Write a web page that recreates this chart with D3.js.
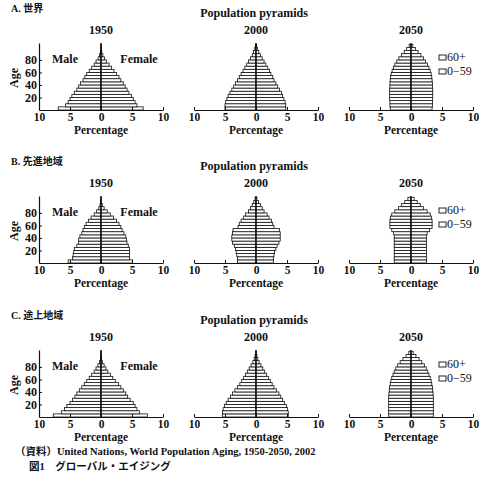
<!DOCTYPE html>
<html>
<head>
<meta charset="utf-8">
<script src="https://cdn.jsdelivr.net/npm/d3@7"></script>
<style>
  body { margin: 0; background: #fff; }
  svg { display: block; }
  text { font-family: "Liberation Serif", "DejaVu Serif", "Noto Sans CJK JP", serif; fill: #111; }
</style>
</head>
<body>
<div id="chart"></div>
<script>
// age groups, 5-year bands, lower bound of each band
const AGE_STARTS = [0, 5, 10, 15, 20, 25, 30, 35, 40, 45, 50, 55, 60, 65, 70, 75, 80, 85, 90, 95, 100];
const YEARS = ["1950", "2000", "2050"];
const REGION_LABELS = ["A. 世界", "B. 先進地域", "C. 途上地域"];
const X_TICKS = [-10, -5, 0, 5, 10];
const Y_TICKS = [20, 40, 60, 80];
const LEGEND_LABELS = ["60+", "0\u221259"];

// percentage of total population, by sex
const WORLD_1950_MALE   = [6.9, 5.7, 5.3, 5.0, 4.7, 4.3, 3.9, 3.6, 3.3, 2.9, 2.6, 2.3, 1.9, 1.5, 1.1, 0.8, 0.45, 0.25, 0.1, 0.05, 0.02];
const WORLD_1950_FEMALE = [6.8, 5.8, 5.5, 5.2, 4.9, 4.5, 4.2, 3.9, 3.6, 3.2, 2.9, 2.5, 2.1, 1.7, 1.3, 0.9, 0.55, 0.3, 0.12, 0.05, 0.02];
const WORLD_2000_MALE   = [5.0, 5.0, 4.9, 4.7, 4.5, 4.2, 3.9, 3.6, 3.3, 3.0, 2.7, 2.4, 2.1, 1.8, 1.5, 1.2, 0.9, 0.6, 0.4, 0.2, 0.1];
const WORLD_2000_FEMALE = [4.8, 4.8, 4.7, 4.5, 4.3, 4.1, 3.8, 3.5, 3.2, 2.9, 2.7, 2.4, 2.2, 1.9, 1.6, 1.3, 1.0, 0.7, 0.45, 0.25, 0.1];
const WORLD_2050_MALE   = [3.35, 3.4, 3.4, 3.45, 3.45, 3.45, 3.45, 3.4, 3.4, 3.35, 3.3, 3.2, 3.05, 2.85, 2.6, 2.3, 1.95, 1.55, 1.1, 0.7, 0.3];
const WORLD_2050_FEMALE = [3.4, 3.45, 3.45, 3.5, 3.5, 3.5, 3.5, 3.45, 3.45, 3.4, 3.35, 3.25, 3.1, 2.9, 2.65, 2.35, 2.0, 1.6, 1.15, 0.7, 0.3];

const MDR_1950_MALE   = [5.3, 4.6, 4.5, 4.4, 4.3, 3.9, 3.6, 3.6, 3.4, 3.1, 2.9, 2.7, 2.4, 2.0, 1.6, 1.1, 0.7, 0.35, 0.15, 0.05, 0.02];
const MDR_1950_FEMALE = [5.1, 4.6, 4.6, 4.6, 4.6, 4.4, 4.2, 4.1, 4.0, 3.7, 3.4, 3.2, 2.9, 2.5, 2.0, 1.5, 1.0, 0.5, 0.2, 0.07, 0.02];
const MDR_2000_MALE   = [3.0, 3.0, 3.1, 3.2, 3.3, 3.5, 3.8, 3.9, 3.9, 3.8, 3.7, 2.9, 2.7, 2.4, 2.0, 1.7, 1.2, 0.9, 0.6, 0.35, 0.15];
const MDR_2000_FEMALE = [2.8, 2.8, 2.9, 3.0, 3.2, 3.4, 3.7, 3.9, 3.9, 3.9, 3.8, 2.9, 2.7, 2.5, 2.1, 1.8, 1.3, 1.0, 0.7, 0.4, 0.15];
const MDR_2050_MALE   = [2.7, 2.7, 2.7, 2.7, 2.7, 2.7, 2.7, 2.7, 2.7, 2.8, 3.1, 3.4, 3.4, 3.4, 3.3, 3.1, 2.6, 2.0, 1.5, 1.0, 0.5];
const MDR_2050_FEMALE = [2.5, 2.5, 2.5, 2.5, 2.5, 2.5, 2.5, 2.5, 2.5, 2.6, 3.0, 3.4, 3.4, 3.4, 3.3, 3.1, 2.6, 2.0, 1.5, 1.0, 0.5];

const LDR_1950_MALE   = [7.7, 6.4, 5.9, 5.5, 5.0, 4.6, 4.2, 3.9, 3.5, 3.1, 2.7, 2.3, 1.9, 1.5, 1.1, 0.8, 0.5, 0.25, 0.1, 0.04, 0.02];
const LDR_1950_FEMALE = [7.5, 6.2, 5.8, 5.5, 5.2, 4.7, 4.3, 4.0, 3.6, 3.2, 2.8, 2.3, 1.9, 1.5, 1.1, 0.8, 0.5, 0.25, 0.1, 0.04, 0.02];
const LDR_2000_MALE   = [5.4, 5.4, 5.3, 5.1, 4.8, 4.5, 4.1, 3.8, 3.4, 3.0, 2.6, 2.3, 2.0, 1.7, 1.4, 1.1, 0.8, 0.5, 0.3, 0.15, 0.05];
const LDR_2000_FEMALE = [5.2, 5.2, 5.1, 4.9, 4.6, 4.3, 4.0, 3.7, 3.3, 2.9, 2.6, 2.3, 2.0, 1.7, 1.4, 1.1, 0.8, 0.5, 0.3, 0.15, 0.05];
const LDR_2050_MALE   = [3.6, 3.6, 3.6, 3.6, 3.6, 3.6, 3.6, 3.55, 3.5, 3.45, 3.35, 3.25, 3.1, 2.9, 2.7, 2.45, 2.15, 1.75, 1.3, 0.8, 0.35];
const LDR_2050_FEMALE = [3.6, 3.6, 3.6, 3.6, 3.6, 3.6, 3.6, 3.55, 3.5, 3.45, 3.35, 3.25, 3.1, 2.9, 2.7, 2.45, 2.15, 1.75, 1.3, 0.8, 0.35];

const ROWS = [
  [[WORLD_1950_MALE, WORLD_1950_FEMALE], [WORLD_2000_MALE, WORLD_2000_FEMALE], [WORLD_2050_MALE, WORLD_2050_FEMALE]],
  [[MDR_1950_MALE, MDR_1950_FEMALE], [MDR_2000_MALE, MDR_2000_FEMALE], [MDR_2050_MALE, MDR_2050_FEMALE]],
  [[LDR_1950_MALE, LDR_1950_FEMALE], [LDR_2000_MALE, LDR_2000_FEMALE], [LDR_2050_MALE, LDR_2050_FEMALE]],
];

const W = 479, H = 482;
const BASELINES = [110, 263, 417];
const CENTERS = [101, 256, 411];
const HALF_W = 62;       // px from 0 to 10%
const AGE_H = 67;        // px from age 0 to age 107
const FS = 12;

const svg = d3.select("#chart").append("svg")
  .attr("width", W).attr("height", H)
  .attr("viewBox", `0 0 ${W} ${H}`);

function styleText(sel, size, bold) {
  return sel.attr("font-family", null).attr("font-size", null)
    .style("font-size", size + "px").style("font-weight", bold ? "bold" : "normal")
    .attr("fill", "#111");
}

ROWS.forEach((row, r) => {
  const base = BASELINES[r];
  const g = svg.append("g");

  const yScale = d3.scaleLinear().domain([0, 107]).range([base, base - AGE_H]);

  styleText(g.append("text")
    .attr("x", 11).attr("y", base - 100)
    .attr("dominant-baseline", "middle")
    .text(REGION_LABELS[r]), 10, true);

  styleText(g.append("text")
    .attr("x", 254).attr("y", base - 96)
    .attr("text-anchor", "middle").attr("dominant-baseline", "middle")
    .text("Population pyramids"), FS, true);

  row.forEach(([male, female], c) => {
    const cx = CENTERS[c];
    const xScale = d3.scaleLinear().domain([-10, 10]).range([cx - HALF_W, cx + HALF_W]);
    const p = g.append("g");

    styleText(p.append("text")
      .attr("x", cx).attr("y", base - 79)
      .attr("text-anchor", "middle").attr("dominant-baseline", "middle")
      .text(YEARS[c]), FS, true);

    const bars = AGE_STARTS.map((a, i) => ({ age: a, m: male[i], f: female[i] }));

    p.selectAll("rect.male").data(bars).enter().append("rect")
      .attr("class", "male")
      .attr("x", d => xScale(-d.m))
      .attr("y", d => yScale(d.age + 5))
      .attr("width", d => xScale(0) - xScale(-d.m))
      .attr("height", d => yScale(d.age) - yScale(d.age + 5))
      .attr("fill", "#fff").attr("stroke", "#111").attr("stroke-width", 0.8);

    p.selectAll("rect.female").data(bars).enter().append("rect")
      .attr("class", "female")
      .attr("x", xScale(0))
      .attr("y", d => yScale(d.age + 5))
      .attr("width", d => xScale(d.f) - xScale(0))
      .attr("height", d => yScale(d.age) - yScale(d.age + 5))
      .attr("fill", "#fff").attr("stroke", "#111").attr("stroke-width", 0.8);

    // centre line
    p.append("line")
      .attr("x1", xScale(0)).attr("x2", xScale(0))
      .attr("y1", base).attr("y2", yScale(107))
      .attr("stroke", "#111").attr("stroke-width", 1.4);

    const xAxis = p.append("g")
      .attr("transform", `translate(0,${base})`)
      .call(d3.axisBottom(xScale).tickValues(X_TICKS).tickFormat(d => Math.abs(d))
        .tickSizeInner(-3).tickSizeOuter(0));
    xAxis.select(".domain").attr("stroke", "#111").attr("stroke-width", 1.2);
    xAxis.selectAll(".tick line").attr("stroke", "#111");
    styleText(xAxis.selectAll("text"), 11.5, true)
      .attr("y", 8).attr("dy", null).attr("dominant-baseline", "middle");

    styleText(p.append("text")
      .attr("x", cx).attr("y", base + 21)
      .attr("text-anchor", "middle").attr("dominant-baseline", "middle")
      .text("Percentage"), 11.5, true);

    if (c === 0) {
      const yAxis = p.append("g")
        .attr("transform", `translate(${xScale(-10)},0)`)
        .call(d3.axisLeft(yScale).tickValues(Y_TICKS).tickSizeInner(-3).tickSizeOuter(0).tickPadding(2));
      yAxis.select(".domain").attr("stroke", "#111").attr("stroke-width", 1.2);
      yAxis.selectAll(".tick line").attr("stroke", "#111");
      styleText(yAxis.selectAll("text"), FS, true);

      styleText(p.append("text")
        .attr("transform", `translate(15,${base - 32}) rotate(-90)`)
        .attr("text-anchor", "middle").attr("dominant-baseline", "middle")
        .text("Age"), FS, true);

      styleText(p.append("text")
        .attr("x", cx - 36).attr("y", base - 50)
        .attr("text-anchor", "middle").attr("dominant-baseline", "middle")
        .text("Male"), FS, true);

      styleText(p.append("text")
        .attr("x", cx + 38).attr("y", base - 50)
        .attr("text-anchor", "middle").attr("dominant-baseline", "middle")
        .text("Female"), FS, true);
    }

    if (c === 2) {
      LEGEND_LABELS.forEach((lab, k) => {
        const ly = base - 52 + k * 14;
        p.append("rect")
          .attr("x", 439).attr("y", ly - 3).attr("width", 7).attr("height", 5)
          .attr("fill", "#fff").attr("stroke", "#111").attr("stroke-width", 0.9);
        styleText(p.append("text")
          .attr("x", 447).attr("y", ly)
          .attr("dominant-baseline", "middle")
          .text(lab), FS, false);
      });
    }
  });
});

styleText(svg.append("text")
  .attr("x", 15).attr("y", 453)
  .attr("dominant-baseline", "middle")
  .text("（資料）United Nations, World Population Aging, 1950-2050, 2002"), 10.5, true);

styleText(svg.append("text")
  .attr("x", 29).attr("y", 468)
  .attr("dominant-baseline", "middle")
  .text("図1　グローバル・エイジング"), 10.5, true);
</script>
</body>
</html>
